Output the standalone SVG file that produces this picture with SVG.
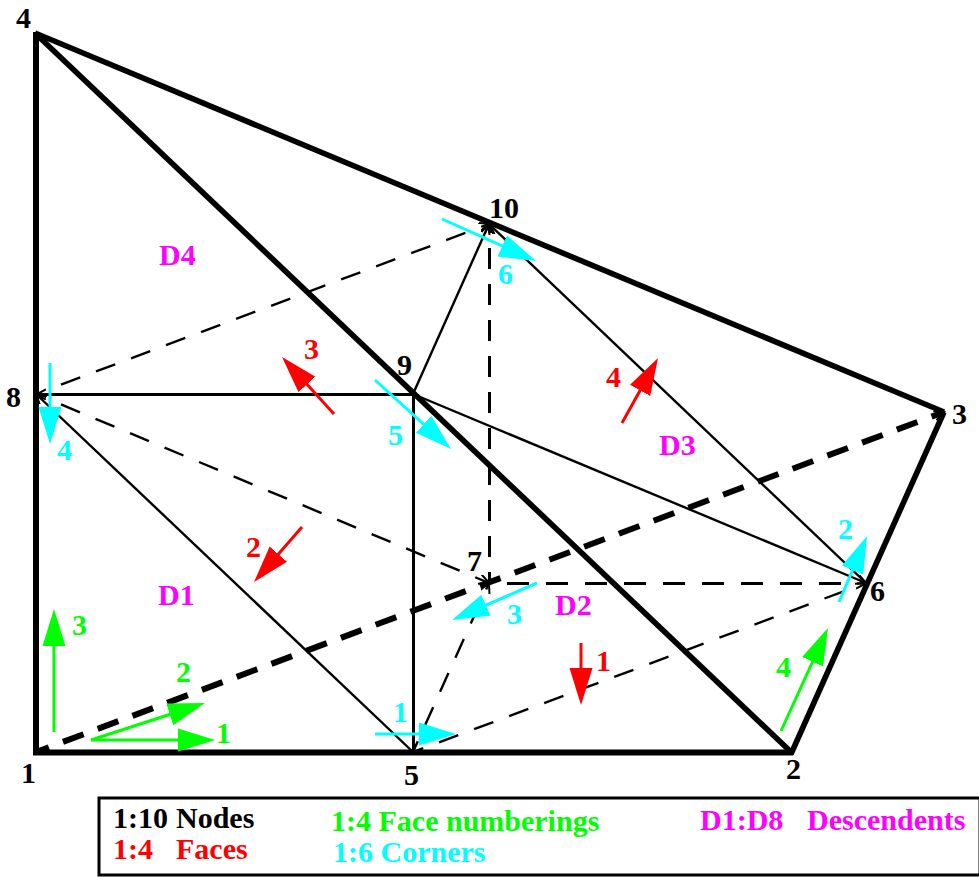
<svg xmlns="http://www.w3.org/2000/svg" width="979" height="877" viewBox="0 0 979 877">
<style>
text{font-family:"Liberation Serif","Times New Roman",serif;font-weight:bold;font-size:30px}
.k{fill:#000}.r{fill:#f00}.g{fill:#0f0}.c{fill:#0ff}.m{fill:#f0f}
.s{stroke:#000;fill:none}
.t6{stroke-width:6}.t5{stroke-width:5.600}.t3{stroke-width:3}.t2{stroke-width:2.400}
.d1{stroke-width:2.400;stroke-dasharray:20.500 16.900}
.d2{stroke-width:3;stroke-dasharray:21 15}
.d3{stroke-width:6;stroke-dasharray:22 15.100}
.ar{stroke-width:3;fill:none}
</style>
<defs>
<marker id="ag" markerUnits="userSpaceOnUse" markerWidth="40" markerHeight="26" refX="20" refY="12" orient="auto"><path d="M0 0.500L37 12L0 23.500Z" fill="#0f0"/></marker>
<marker id="ac" markerUnits="userSpaceOnUse" markerWidth="40" markerHeight="26" refX="20" refY="12" orient="auto"><path d="M0 0.500L37 12L0 23.500Z" fill="#0ff"/></marker>
<marker id="ar" markerUnits="userSpaceOnUse" markerWidth="40" markerHeight="26" refX="20" refY="12" orient="auto"><path d="M0 0.500L37 12L0 23.500Z" fill="#f00"/></marker>
<marker id="tip" markerUnits="userSpaceOnUse" markerWidth="12" markerHeight="12" refX="10" refY="5" orient="auto"><path d="M0 0L10 5L0 10" fill="none" stroke="#000" stroke-width="2"/></marker>
</defs>
<g id="connectors">
<path class="s t6" d="M36 755V32"/>
<path class="s t5" d="M35 33L944 412"/>
<path class="s t5" d="M944 412L791 754"/>
<path class="s t6" d="M33 752.500H793"/>
<path class="s t5" d="M36 34L791 752"/>
<path class="s d3" d="M36 752L944 412" stroke-dashoffset="8.300" marker-end="url(#tip)"/>
<path class="s t3" d="M413.500 752V394.500"/>
<path class="s t3" d="M413.500 394.500H36" marker-end="url(#tip)"/>
<path class="s t2" d="M413 752L36 394" marker-end="url(#tip)"/>
<path class="s t2" d="M413 394L489 224" marker-end="url(#tip)"/>
<path class="s t2" d="M866 583L489 224" marker-end="url(#tip)"/>
<path class="s t2" d="M413 394L866 583" marker-end="url(#tip)"/>
<path class="s d1" d="M61 384.600L489 224" marker-end="url(#tip)"/>
<path class="s d1" d="M61 404.400L489 583" marker-end="url(#tip)"/>
<path class="s d1" d="M413 752L489 583" stroke-dashoffset="8.800" marker-end="url(#tip)"/>
<path class="s d1" d="M413 752L843 591.600" stroke-dashoffset="9.600"/>
<path class="s d2" d="M489.500 583V224" stroke-dashoffset="10" marker-end="url(#tip)"/>
<path class="s d2" d="M507 583.500H842" style="stroke-dasharray:22 17"/>
<path class="s t2" d="M857 583.500H866" marker-end="url(#tip)"/>
</g>
<g id="face-arrows">
<path class="ar" stroke="#f00" marker-end="url(#ar)" d="M581 643V688"/>
<path class="ar" stroke="#f00" marker-end="url(#ar)" d="M302 527L265.200 569.200"/>
<path class="ar" stroke="#f00" marker-end="url(#ar)" d="M334 414L293.500 369.600"/>
<path class="ar" stroke="#f00" marker-end="url(#ar)" d="M622 423L649.800 372.900"/>
</g>
<g id="face-numbering-arrows">
<path class="ar" stroke="#0f0" marker-end="url(#ag)" d="M91 740H198"/>
<path class="ar" stroke="#0f0" marker-end="url(#ag)" d="M91 740L188.800 708.200"/>
<path class="ar" stroke="#0f0" marker-end="url(#ag)" d="M54 732V626"/>
<path class="ar" stroke="#0f0" marker-end="url(#ag)" d="M781 731L820.900 643.500"/>
</g>
<g id="corner-arrows">
<path class="ar" stroke="#0ff" marker-end="url(#ac)" d="M375 734H439"/>
<path class="ar" stroke="#0ff" marker-end="url(#ac)" d="M839 602L860.400 551.600"/>
<path class="ar" stroke="#0ff" marker-end="url(#ac)" d="M537 583L467.600 613.200"/>
<path class="ar" stroke="#0ff" marker-end="url(#ac)" d="M50 363V427"/>
<path class="ar" stroke="#0ff" marker-end="url(#ac)" d="M375 380L438.400 437.600"/>
<path class="ar" stroke="#0ff" marker-end="url(#ac)" d="M442 219L520.500 254.100"/>
</g>
<g id="node-labels">
<text class="k" x="16" y="28">4</text>
<text class="k" x="489" y="218">10</text>
<text class="k" x="397" y="375">9</text>
<text class="k" x="6" y="407">8</text>
<text class="k" x="952" y="424">3</text>
<text class="k" x="467" y="571">7</text>
<text class="k" x="870" y="601">6</text>
<text class="k" x="21" y="783">1</text>
<text class="k" x="404" y="785">5</text>
<text class="k" x="786" y="779">2</text>
</g>
<g id="face-labels">
<text class="r" x="596" y="671">1</text>
<text class="r" x="246" y="557">2</text>
<text class="r" x="304" y="359">3</text>
<text class="r" x="606" y="387">4</text>
</g>
<g id="face-numbering-labels">
<text class="g" x="216" y="743">1</text>
<text class="g" x="176" y="682">2</text>
<text class="g" x="72" y="635">3</text>
<text class="g" x="776" y="677">4</text>
</g>
<g id="corner-labels">
<text class="c" x="393" y="722">1</text>
<text class="c" x="838" y="539">2</text>
<text class="c" x="507" y="624">3</text>
<text class="c" x="57" y="460">4</text>
<text class="c" x="388" y="445">5</text>
<text class="c" x="498" y="284">6</text>
</g>
<g id="descendent-labels">
<text class="m" x="159" y="265">D4</text>
<text class="m" x="659" y="455">D3</text>
<text class="m" x="555" y="615">D2</text>
<text class="m" x="158" y="605">D1</text>
</g>
<g id="legend">
<rect x="99" y="798" width="881" height="77" fill="#fff" stroke="#000" stroke-width="3"/>
<text class="k" x="113" y="828">1:10</text><text class="k" x="176" y="828">Nodes</text>
<text class="r" x="113" y="859">1:4</text><text class="r" x="176" y="859">Faces</text>
<text class="g" x="331" y="831">1:4 Face numberings</text>
<text class="c" x="333" y="862">1:6 Corners</text>
<text class="m" x="700" y="830">D1:D8</text><text class="m" x="807" y="830">Descendents</text>
</g>
</svg>
